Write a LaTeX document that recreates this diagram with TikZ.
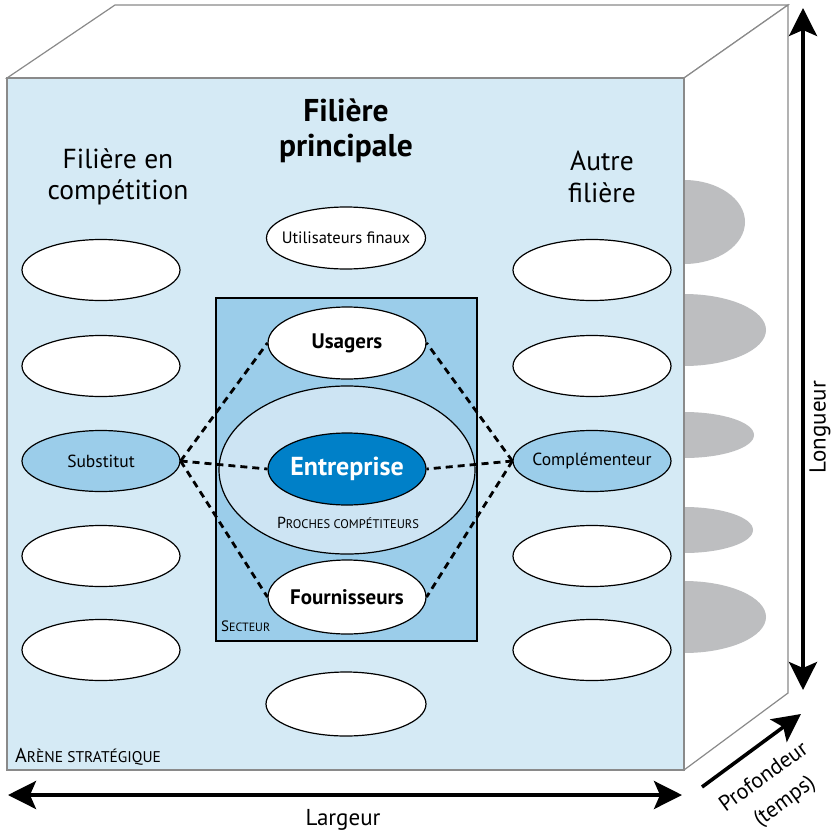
\documentclass[tikz,border=0pt]{standalone}
\usepackage{fontspec}
\setmainfont{PT Sans}
\usetikzlibrary{shapes.geometric,arrows.meta}
\definecolor{facebg}{HTML}{D5EAF5}
\definecolor{sectbg}{HTML}{9BCDEA}
\definecolor{procbg}{HTML}{CDE4F3}
\definecolor{entbg}{HTML}{0080C8}
\definecolor{shadow}{HTML}{BDBEC0}
\definecolor{edge}{HTML}{8A8A8A}
\newcommand\fsz[1]{\fontsize{#1}{#1}\selectfont}
\tikzset{
  oval/.style={ellipse, draw=black, line width=1.2pt, fill=white, minimum width=158pt, minimum height=61pt, inner sep=0pt},
  txt/.style={label={[font=\fsz{17.5}]center:#1}},
  link/.style={line width=2.8pt, dash pattern=on 7pt off 5pt},
  axis/.style={line width=3.6pt, {Stealth[length=28pt,width=28pt,inset=6pt]}-{Stealth[length=28pt,width=28pt,inset=6pt]}},
  axisone/.style={line width=3.6pt, -{Stealth[length=28pt,width=28pt,inset=6pt]}},
  cube/.style={draw=edge, line width=1.2pt, fill=white},
}
\begin{document}
\begin{tikzpicture}[x=1pt,y=-1pt]
\useasboundingbox (0,0) rectangle (834,835);
% top and side faces of the box
\draw[cube] (7,78) -- (115,5) -- (788,5) -- (684,78) -- cycle;
\draw[cube] (684,78) -- (788,5) -- (788,693) -- (684,770) -- cycle;
% shadows of the ellipses on the side face
\begin{scope}
  \clip (684,78) -- (788,5) -- (788,693) -- (684,770) -- cycle;
  \fill[shadow] (684,222) ellipse [x radius=61, y radius=42];
  \fill[shadow] (684,330) ellipse [x radius=82, y radius=36];
  \fill[shadow] (684,435) ellipse [x radius=70, y radius=23];
  \fill[shadow] (684,530) ellipse [x radius=69, y radius=23];
  \fill[shadow] (684,617) ellipse [x radius=82, y radius=36];
\end{scope}
% front face
\draw[draw=edge, line width=1.2pt, fill=facebg] (7,78) rectangle (684,770);
\node[anchor=west, inner sep=0pt] (arene) at (15,757) {\fsz{20}A\fsz{15.5}RÈNE STRATÉGIQUE};

% column headings
\node[align=center, font=\fsz{31.5}\bfseries, inner sep=0pt] (hmain) at (346,131) {Filière\\[3pt]principale};
\node[align=center, font=\fsz{27.5}, inner sep=0pt] (hleft) at (118,177) {Filière en\\[4pt]compétition};
\node[align=center, font=\fsz{27.5}, inner sep=0pt] (hright) at (602,177) {Autre\\[4pt]filière};

% sector box
\draw[fill=sectbg, line width=2.6pt] (216,298) rectangle (477,641);
\node[anchor=west, inner sep=0pt] (sect) at (221,626) {\fsz{15}S\fsz{12}ECTEUR};
\node[ellipse, draw=black, line width=1.2pt, fill=procbg, minimum width=256pt, minimum height=168pt, inner sep=0pt] (pc) at (347,470) {};
\node[inner sep=0pt] (pclab) at (348,523) {\fsz{16}P\fsz{12.5}ROCHES COMPÉTITEURS};

% left column
\node[oval] (l1) at (101,270) {};
\node[oval] (l2) at (101,366) {};
\node[oval, fill=sectbg, txt=Substitut] (sub) at (101,461) {};
\node[oval] (l4) at (101,556) {};
\node[oval] (l5) at (101,650) {};
% right column
\node[oval] (r1) at (592,270) {};
\node[oval] (r2) at (592,366) {};
\node[oval, fill=sectbg, txt=Complémenteur] (comp) at (592,461) {};
\node[oval] (r4) at (592,556) {};
\node[oval] (r5) at (592,650) {};
% middle column
\node[oval, minimum width=159pt, minimum height=62pt, label={[font=\fsz{16.5}]center:Utilisateurs finaux}] (uf) at (346,238) {};
\node[oval, minimum width=160pt, minimum height=64pt] (mb) at (346,704) {};
\node[oval, minimum height=72pt, label={[font=\fsz{21}\bfseries]center:Usagers}] (usg) at (347,343) {};
\node[oval, minimum height=72pt, fill=entbg, label={[font=\fsz{26}\bfseries, text=white]center:Entreprise}] (ent) at (347,469) {};
\node[oval, minimum height=74pt, label={[font=\fsz{21}\bfseries]center:Fournisseurs}] (fou) at (347,597) {};

% links
\draw[link] (sub.east) -- (usg.west);
\draw[link] (sub.east) -- (ent.west);
\draw[link] (sub.east) -- (fou.west);
\draw[link] (comp.west) -- (usg.east);
\draw[link] (comp.west) -- (ent.east);
\draw[link] (comp.west) -- (fou.east);

% dimension axes
\coordinate (wl) at (8,795);
\coordinate (wr) at (682,795);
\coordinate (lt) at (803,8);
\coordinate (lb) at (803,690);
\coordinate (d0) at (702,787);
\coordinate (d1) at (801,714);
\draw[axis] (wl) -- (wr);
\draw[axis] (lt) -- (lb);
\draw[axisone] (d0) -- (d1);
\node[font=\fsz{23}, inner sep=0pt] (larg) at (343,820) {Largeur};
\node[font=\fsz{23}, rotate=90, inner sep=0pt] (long) at (820,427) {Longueur};
\node[font=\fsz{22}, rotate=36, inner sep=0pt] (prof) at (763,776) {Profondeur};
\node[font=\fsz{22}, rotate=36, inner sep=0pt] (temps) at (785,802) {(temps)};
\end{tikzpicture}
\end{document}
